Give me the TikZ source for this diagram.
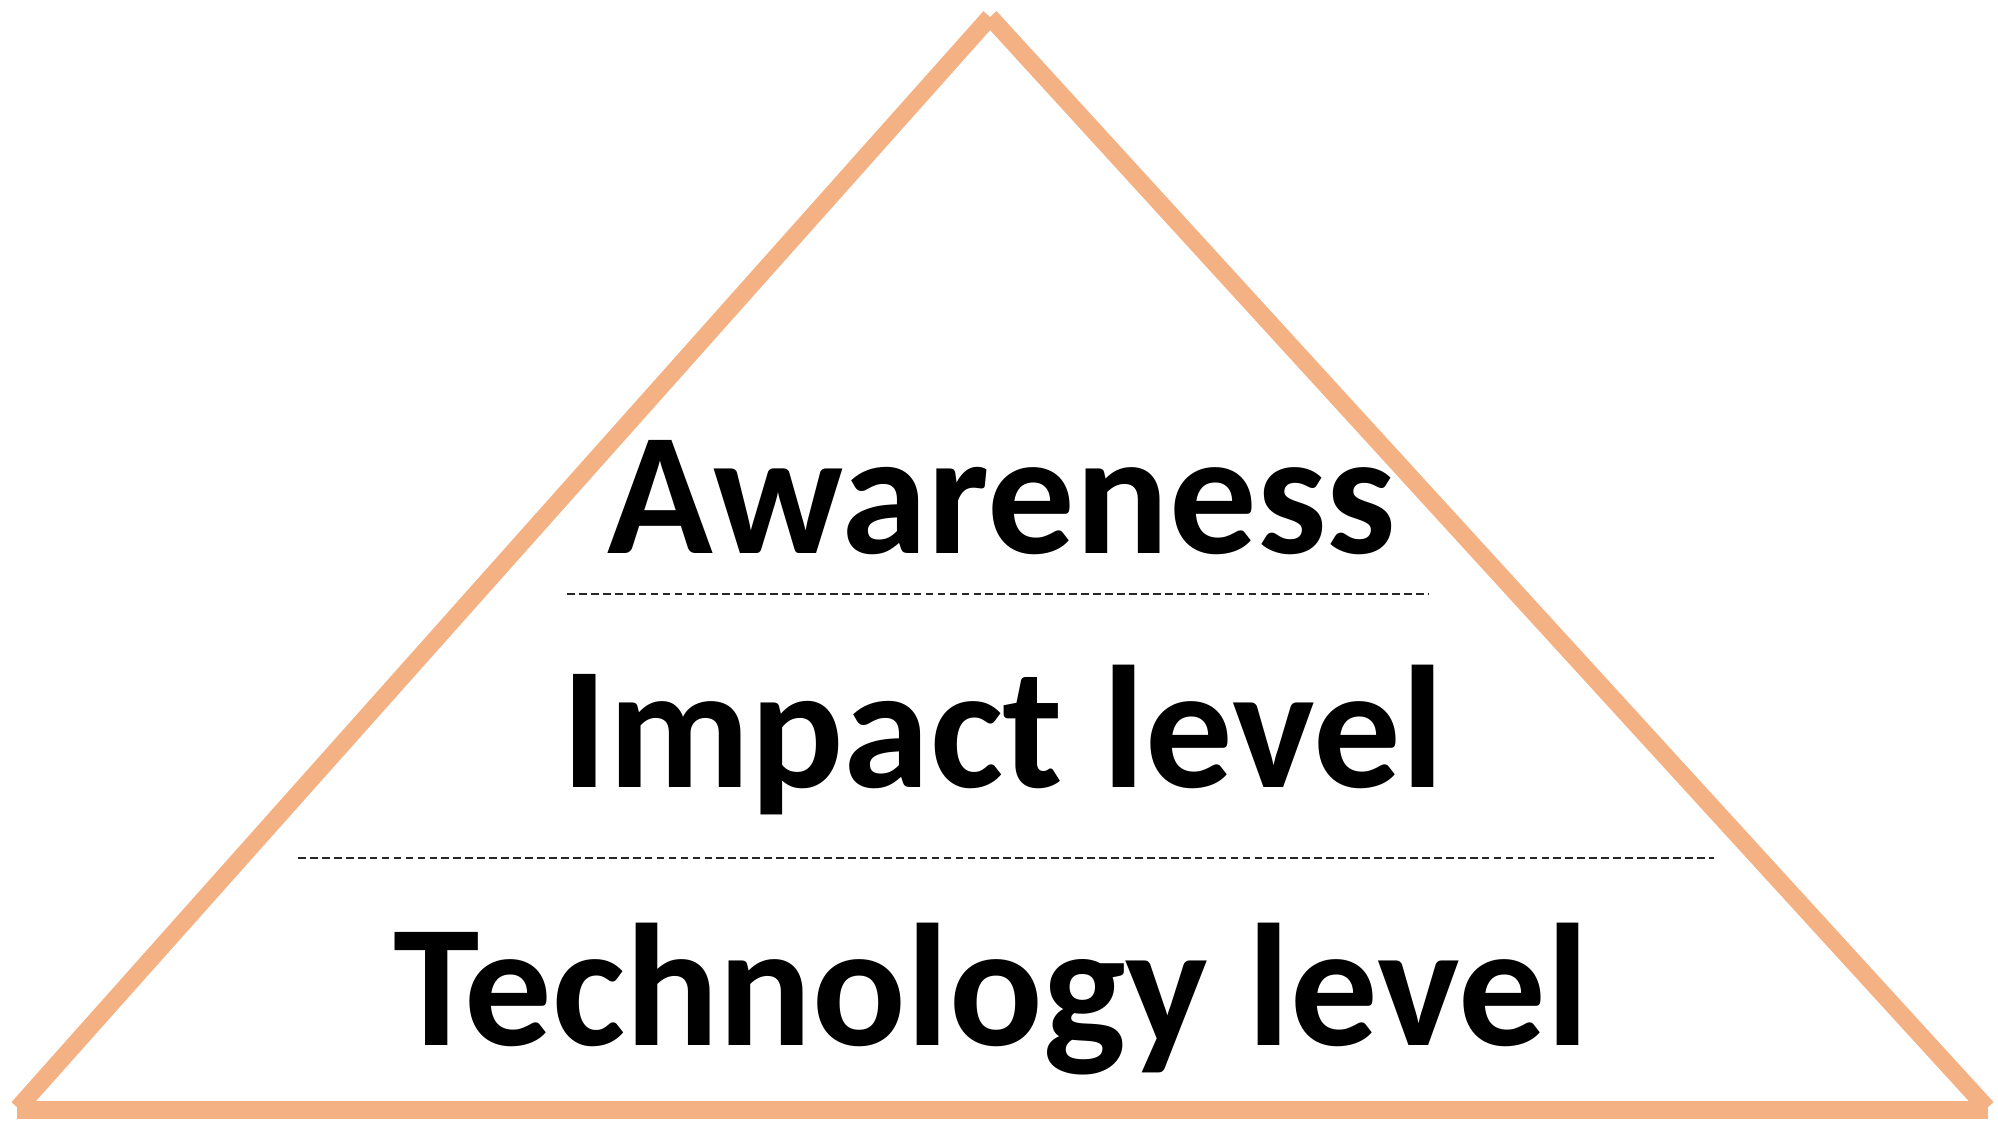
\documentclass[tikz,border=0pt]{standalone}
\usepackage{fontspec}
\setmainfont{Carlito}
\usepackage{tikz}

\definecolor{rimorange}{RGB}{244,177,131}

\begin{document}
\begin{tikzpicture}[
  x=0.01cm, y=-0.01cm,
  rim/.style={draw=rimorange,line width=5pt,line cap=butt},
  sep/.style={draw=black!85,line width=0.6pt,dash pattern=on 2.2pt off 1.2pt},
  level/.style={anchor=base,inner sep=0pt,font=\fontsize{49.6}{56}\selectfont\bfseries}
]
\useasboundingbox (0,0) rectangle (1998,1120);
% corners of the pyramid
\coordinate (apex) at (990,17);
\coordinate (bl)   at (18,1108);
\coordinate (br)   at (1987,1108);
\draw[rim] (bl) -- (apex);
\draw[rim] (apex) -- (br);
\draw[rim] (17,1110) -- (1988,1110);
% the three levels
\node[level] (aware)  at (1002,553)  {Awareness};
\draw[sep] (567,594) -- (1428,594);
\node[level] (impact) at (1003,787)  {Impact level};
\draw[sep] (298,858) -- (1714,858);
\node[level] (tech)   at (991,1045)  {Technology level};
\end{tikzpicture}
\end{document}
